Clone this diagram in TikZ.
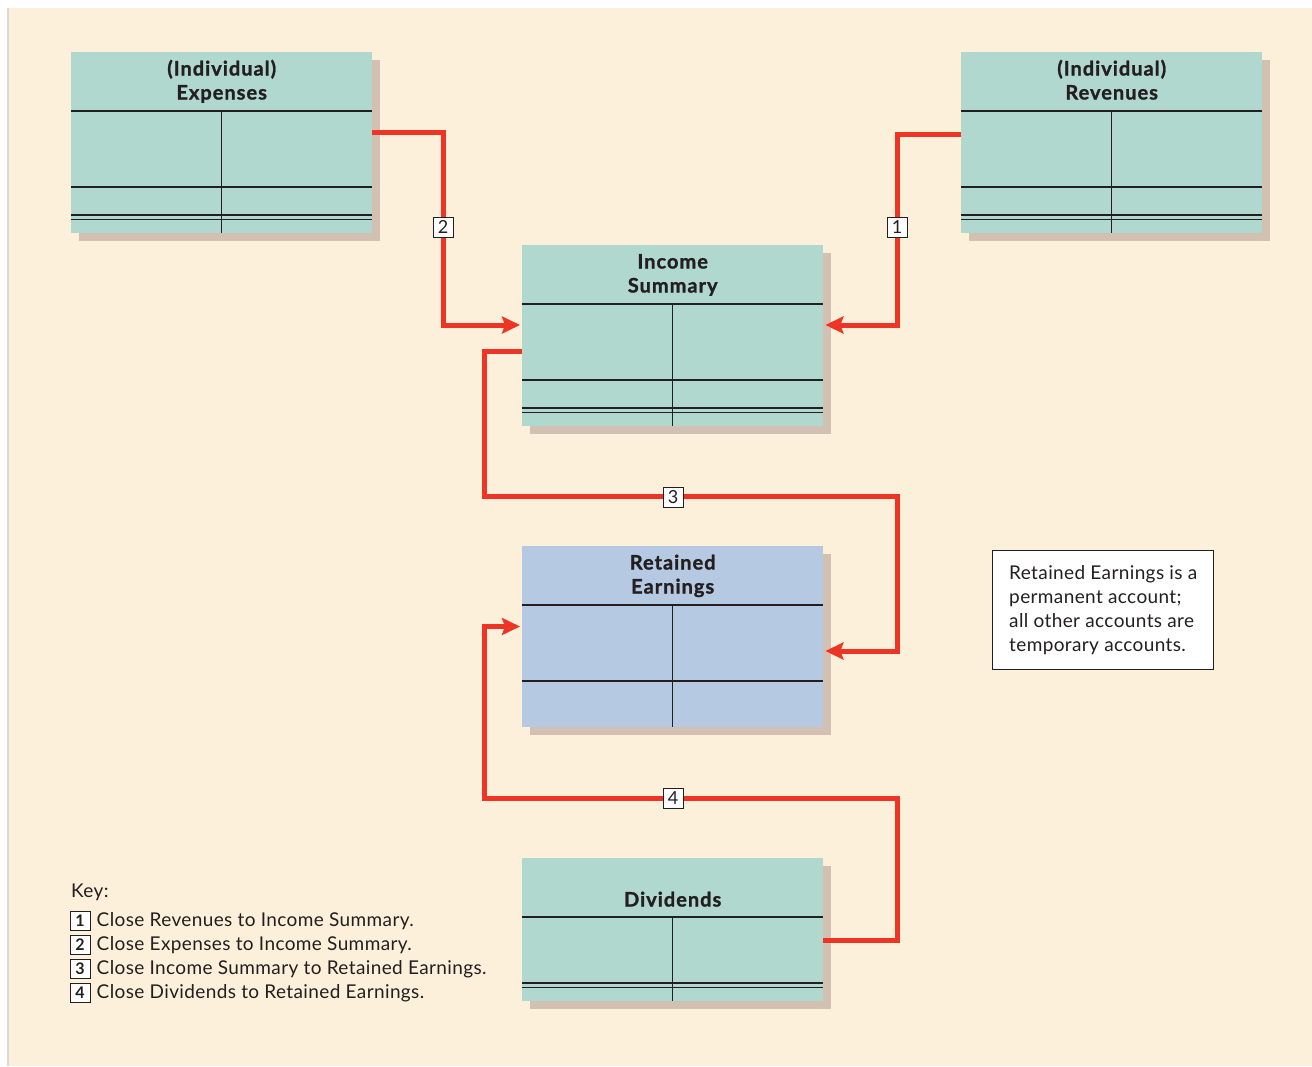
\documentclass[tikz,border=0pt]{standalone}
\usepackage{fontspec}
\setmainfont{Lato}
\usetikzlibrary{arrows.meta,calc,shadows}
\definecolor{bgcream}{HTML}{FDF0DA}
\definecolor{acctgreen}{HTML}{B0D8CE}
\definecolor{acctblue}{HTML}{B5CAE2}
\definecolor{shadowtan}{HTML}{D2C0B2}
\definecolor{flowred}{HTML}{EE3424}
\definecolor{inkdark}{HTML}{231F20}
\tikzset{
  acct/.style={draw=none, fill=acctgreen, minimum width=301pt, minimum height=181pt,
    inner sep=0pt, anchor=north west,
    drop shadow={shadow xshift=8pt, shadow yshift=-8pt, fill=shadowtan, opacity=1}},
  accttitle/.style={font=\bfseries\fontsize{20}{24}\selectfont\addfontfeatures{LetterSpace=5,FakeBold=1.2},
    align=center, text=inkdark, inner sep=0pt, anchor=north},
  tline/.style={draw=inkdark, line width=1.3pt},
  flow/.style={draw=flowred, line width=5pt, line join=miter},
  flowarrow/.style={flow, -{Stealth[length=18pt, width=17pt, inset=3pt]}},
  stepnum/.style={draw=inkdark, fill=white, line width=1pt, minimum width=20pt, minimum height=20pt,
    inner sep=0pt, font=\fontsize{18}{18}\selectfont, text=inkdark},
  bodytext/.style={font=\fontsize{19}{24}\selectfont\addfontfeatures{LetterSpace=2}, text=inkdark},
}
\newcommand{\TAcctLines}[3]{% name, bottom-single-line?, double-lines?
  \draw[tline] ($(#1.north west)+(0,59)$) -- ($(#1.north east)+(0,59)$);
  \draw[tline] ($(#1.north)+(0,59)$) -- (#1.south);
  \ifx#2y\draw[tline] ($(#1.north west)+(0,135)$) -- ($(#1.north east)+(0,135)$);\fi
  \ifx#3y
    \draw[tline] ($(#1.south west)+(0,-18.5)$) -- ($(#1.south east)+(0,-18.5)$);
    \draw[tline] ($(#1.south west)+(0,-14)$) -- ($(#1.south east)+(0,-14)$);
  \fi
}
\begin{document}
\begin{tikzpicture}[x=1pt, y=-1pt]
\useasboundingbox (0,0) rectangle (1312,1066);
\fill[bgcream] (8,8) rectangle (1312,1066);
\draw[draw={black!15}, line width=2pt] (8,8) -- (8,1066);

% accounts
\node[acct] (exp) at (71,52) {};
\node[acct] (rev) at (961,52) {};
\node[acct] (inc) at (522,245) {};
\node[acct, fill=acctblue] (ret) at (522,546) {};
\node[acct, minimum height=143pt] (div) at (522,858) {};

\TAcctLines{exp}{y}{y}
\TAcctLines{rev}{y}{y}
\TAcctLines{inc}{y}{y}
\TAcctLines{ret}{y}{n}
\TAcctLines{div}{n}{y}

\node[accttitle] (expt) at ($(exp.north)+(0,6.5)$) {\strut(Individual)\\\strut Expenses};
\node[accttitle] (revt) at ($(rev.north)+(0,6.5)$) {\strut(Individual)\\\strut Revenues};
\node[accttitle] (inct) at ($(inc.north)+(0,6.5)$) {\strut Income\\\strut Summary};
\node[accttitle] (rett) at ($(ret.north)+(0,6.5)$) {\strut Retained\\\strut Earnings};
\node[accttitle] (divt) at ($(div.north)+(0,31.5)$) {\strut Dividends};

% connector waypoints
\coordinate (c1a) at ($(rev.north west)+(0,82)$);
\coordinate (c1b) at (897,134);
\coordinate (c1c) at (897,325);
\coordinate (c1d) at ($(inc.north east)+(2,80)$);

\coordinate (c2a) at ($(exp.north east)+(0,80)$);
\coordinate (c2b) at (443,132);
\coordinate (c2c) at (443,325);
\coordinate (c2d) at ($(inc.north west)+(-2,80)$);

\coordinate (c3a) at ($(inc.north west)+(0,106.5)$);
\coordinate (c3b) at (484,351.5);
\coordinate (c3c) at (484,496.5);
\coordinate (c3d) at (897,496.5);
\coordinate (c3e) at (897,651);
\coordinate (c3f) at ($(ret.north east)+(2,105)$);

\coordinate (c4a) at ($(div.north east)+(0,82)$);
\coordinate (c4b) at (897,940);
\coordinate (c4c) at (897,798);
\coordinate (c4d) at (484,798);
\coordinate (c4e) at (484,626.5);
\coordinate (c4f) at ($(ret.north west)+(-2,80.5)$);

\draw[flowarrow] (c1a) -- (c1b) -- (c1c) -- (c1d);
\draw[flowarrow] (c2a) -- (c2b) -- (c2c) -- (c2d);
\draw[flowarrow] (c3a) -- (c3b) -- (c3c) -- (c3d) -- (c3e) -- (c3f);
\draw[flowarrow] (c4a) -- (c4b) -- (c4c) -- (c4d) -- (c4e) -- (c4f);

\node[stepnum] (s1) at (897,227) {1};
\node[stepnum] (s2) at (443,227) {2};
\node[stepnum] (s3) at (673,497) {3};
\node[stepnum] (s4) at (673,798) {4};

% note
\node[draw=inkdark, line width=1pt, fill=white, anchor=north west, minimum width=221pt,
  minimum height=119pt, inner sep=0pt] (note) at (992,550) {};
\node[bodytext, anchor=west, align=left, inner sep=0pt] (notet) at ($(note.west)+(17,0)$)
  {Retained Earnings is a\\permanent account;\\all other accounts are\\temporary accounts.};

% key
\node[bodytext, anchor=base west, inner sep=0pt] (key) at (71,897) {Key:};
\foreach \n/\t [count=\i] in {1/Close Revenues to Income Summary.,
  2/Close Expenses to Income Summary.,
  3/Close Income Summary to Retained Earnings.,
  4/Close Dividends to Retained Earnings.}{
  \node[stepnum, minimum width=20pt, minimum height=19pt, font=\bfseries\fontsize{16}{16}\selectfont]
    (k\n) at (80, {897+24*\i}) {\n};
  \node[bodytext, anchor=west, inner sep=0pt] (kt\n) at ($(k\n.east)+(6,0)$) {\t};
}
\end{tikzpicture}
\end{document}
